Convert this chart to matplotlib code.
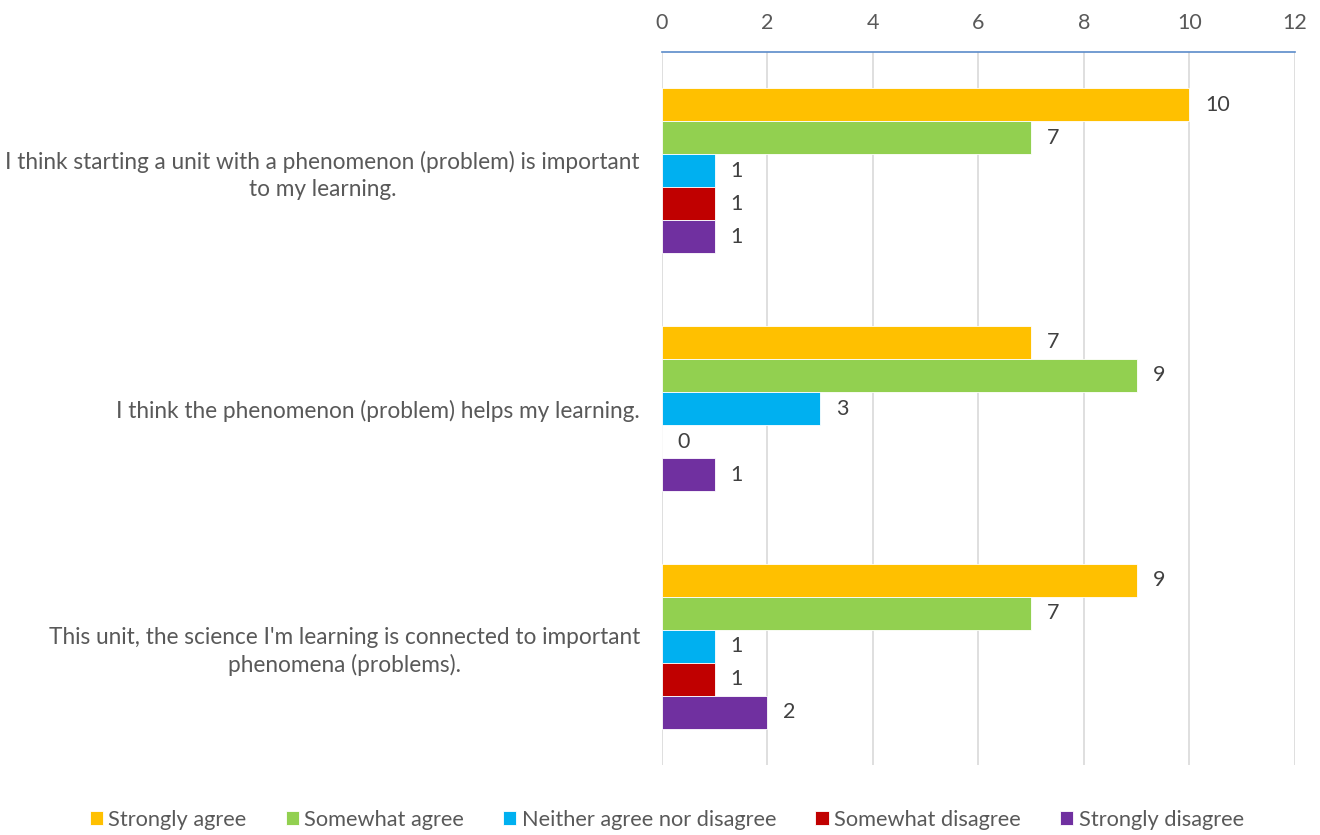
import matplotlib.pyplot as plt
import numpy as np

plt.rcParams['font.family'] = ['Lato', 'DejaVu Sans']

# Daten
categories = [
    "I think starting a unit with a phenomenon (problem) is important\nto my learning.",
    "I think the phenomenon (problem) helps my learning.",
    "This unit, the science I'm learning is connected to important\nphenomena (problems).",
]
series_names = ["Strongly agree", "Somewhat agree", "Neither agree nor disagree",
                "Somewhat disagree", "Strongly disagree"]
strongly_agree = [10, 7, 9]
somewhat_agree = [7, 9, 7]
neither = [1, 3, 1]
somewhat_disagree = [1, 0, 1]
strongly_disagree = [1, 1, 2]
colors = ["#FFC000", "#92D050", "#00B0F0", "#C00000", "#7030A0"]

series = [strongly_agree, somewhat_agree, neither, somewhat_disagree, strongly_disagree]
text_col = "#595959"

fig = plt.figure(figsize=(13.2, 8.35), dpi=100)
ax = fig.add_axes([0.5015, 0.0838, 0.4795, 0.8539])

h = 0.139
y = np.arange(len(categories))
for i, (vals, name, c) in enumerate(zip(series, series_names, colors)):
    pos = y - 2 * h + i * h
    bars = ax.barh(pos, vals, height=h, color=c, edgecolor="white", linewidth=0.6, label=name)
    for b, v in zip(bars, vals):
        ax.text(v + 0.3, b.get_y() + h / 2, str(v), va="center", ha="left",
                fontsize=15.5, color="#404040")

ax.set_ylim(2.5, -0.5)
ax.set_xlim(0, 12)
ax.set_xticks(range(0, 13, 2))
ax.xaxis.tick_top()
ax.tick_params(axis="x", length=0, pad=14, labelsize=15.5, labelcolor=text_col)
ax.set_yticks(y)
ax.set_yticklabels(categories, fontsize=16.3, color=text_col, multialignment="center",
                   linespacing=1.35)
ax.tick_params(axis="y", length=0, pad=16)

ax.grid(axis="x", color="#D9D9D9", linewidth=1.2)
ax.set_axisbelow(True)
for s in ["left", "right", "bottom"]:
    ax.spines[s].set_visible(False)
ax.spines["top"].set_color("#5B8BC9")
ax.spines["top"].set_linewidth(1.2)

fig.legend(loc="lower center", bbox_to_anchor=(0.505, -0.017), ncol=5, frameon=False,
           fontsize=15.7, labelcolor=text_col, handlelength=0.6, handleheight=0.6,
           handletextpad=0.25, columnspacing=1.8)

fig.savefig("out.png", dpi=100)
